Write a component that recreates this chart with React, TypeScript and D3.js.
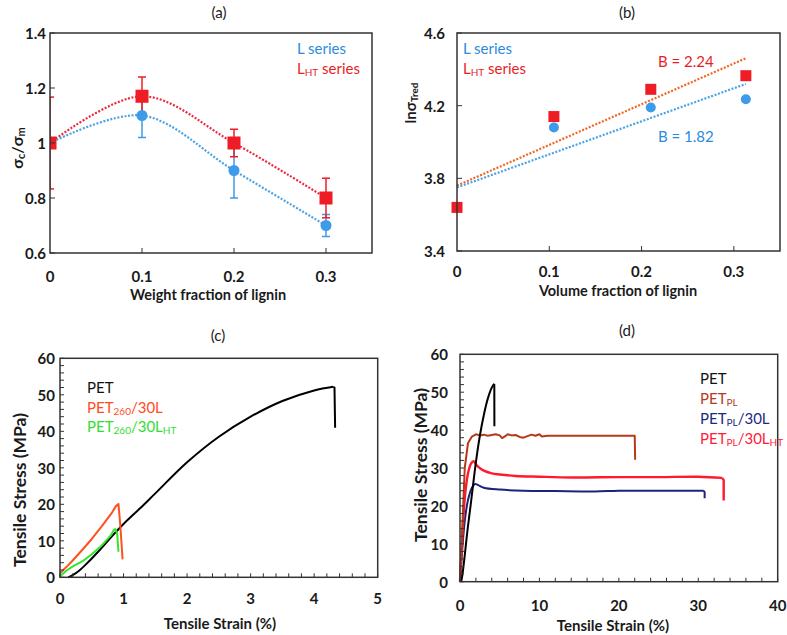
import React from 'react';
import * as d3 from 'd3';

const FONT = 'Lato, "Open Sans", sans-serif';
const INK = '#1a1a1a';

// ---------- (a) ----------
const aFrac = [0, 0.1, 0.2, 0.3];
const aL = [1.0, 1.1, 0.9, 0.7];
const aLErr = [0, 0.08, 0.1, 0.04];
const aLHT = [1.0, 1.17, 1.0, 0.8];
const aLHTErr = [0.167, 0.07, 0.05, 0.072];
const aYTicks = [0.6, 0.8, 1.0, 1.2, 1.4];
const aXTicks = [0, 0.1, 0.2, 0.3];

// ---------- (b) ----------
const bFrac = [0, 0.105, 0.21, 0.313];
const bL = [3.64, 4.08, 4.19, 4.235];
const bLHT = [3.64, 4.14, 4.29, 4.365];
const bFitL = [3.75, 1.82]; // intercept, slope
const bFitLHT = [3.76, 2.24];
const bFitRange = [0, 0.313];
const bYTicks = [3.4, 3.8, 4.2, 4.6];
const bXTicks = [0, 0.1, 0.2, 0.3];

// ---------- (c) ----------
const cPET: [number, number][] = [
  [0.13, 0], [0.2, 0.6], [0.3, 1.8], [0.4, 3.4], [0.6, 7], [0.81, 11.1], [1.0, 14.6],
  [1.26, 18.9], [1.5, 23], [2, 31.5], [2.5, 38.5], [3, 44], [3.5, 48.3], [4, 51.2],
  [4.3, 52.2],
];
const cPETBreak: [number, number][] = [[4.3, 52.2], [4.32, 52], [4.33, 41]];
const cPET260L: [number, number][] = [
  [0, 1.1], [0.1, 2.8], [0.2, 4.6], [0.37, 7.9], [0.5, 10.5], [0.65, 13.8], [0.81, 17.5],
  [0.88, 19.5], [0.92, 20.1], [0.95, 14], [0.985, 4.9],
];
const cPET260LHT: [number, number][] = [
  [0, 0.3], [0.1, 1.8], [0.2, 3.0], [0.37, 4.6], [0.5, 6.3], [0.65, 8.6], [0.8, 11.5],
  [0.85, 13], [0.87, 13.2], [0.9, 12], [0.92, 7],
];
const cXTicks = [0, 1, 2, 3, 4, 5];
const cYTicks = [0, 10, 20, 30, 40, 50, 60];

// ---------- (d) ----------
const dPET = cPET;
const dPETBreak = cPETBreak;
const dPETPL: [number, number][] = [
  [0, 0], [0.3, 15], [0.6, 30], [1.0, 36.5], [1.5, 38.3], [2, 38.9], [2.5, 38.6], [3, 38.8],
  [3.5, 38.5], [4, 38.7], [4.5, 38.9], [5, 38.6], [5.3, 37.9], [5.7, 38.4], [6, 38.9],
  [6.5, 38.6], [7, 38.7], [7.5, 38.2], [8, 38.0], [8.5, 38.4], [9, 38.8], [9.5, 38.5],
  [10, 38.9], [10.3, 38.3], [11, 38.5], [22, 38.5], [22.05, 32.2],
];
const dPETPL30L: [number, number][] = [
  [0, 0], [0.3, 9], [0.6, 16], [1.0, 21.5], [1.5, 24.8], [1.9, 25.8], [2.3, 25.5], [3, 24.8],
  [5, 24.3], [8, 24.0], [12, 23.9], [17, 23.8], [20, 24.0], [25, 24.0], [30.7, 24.0],
];
const dPETPL30LEnd: [number, number][] = [[30.7, 24.0], [30.8, 23.6], [30.8, 22.0]];
const dPETPL30LHT: [number, number][] = [
  [0, 0], [0.3, 12], [0.6, 22], [1.0, 28.5], [1.4, 31.2], [1.7, 31.8], [2.2, 30.5], [3, 29.3],
  [4, 28.6], [5, 28.3], [7, 27.9], [10, 27.7], [14, 27.5], [20, 27.6], [25, 27.6], [30, 27.7],
  [33.0, 27.4],
];
const dPETPL30LHTEnd: [number, number][] = [[33.0, 27.4], [33.2, 26.8], [33.2, 21.4]];
const dXTicks = [0, 10, 20, 30, 40];
const dYTicks = [0, 10, 20, 30, 40, 50, 60];

const fmtA = (v: number) => (v === 1 ? '1' : v === 0 ? '0' : String(v));

function Box({ x, y }: { x: d3.ScaleLinear<number, number>; y: d3.ScaleLinear<number, number> }) {
  const [x0, x1] = x.range();
  const [y0, y1] = y.range();
  return (
    <rect x={x0} y={y1} width={x1 - x0} height={y0 - y1} fill="none" stroke="#333" strokeWidth={1.5} />
  );
}

function Ticks({ x, y, xt, yt, len }: { x: any; y: any; xt: number[]; yt: number[]; len: number }) {
  const [x0] = x.range();
  const [y0] = y.range();
  return (
    <g stroke="#333" strokeWidth={1}>
      {xt.map((t, i) => (
        <line key={'x' + i} x1={x(t)} x2={x(t)} y1={y0} y2={y0 - len} />
      ))}
      {yt.map((t, i) => (
        <line key={'y' + i} x1={x0} x2={x0 + len} y1={y(t)} y2={y(t)} />
      ))}
    </g>
  );
}

function PanelA() {
  const x = d3.scaleLinear().domain([0, 0.35]).range([50, 372]);
  const y = d3.scaleLinear().domain([0.6, 1.4]).range([253, 33]);
  const curve = d3.line<number>().x((_, i) => x(aFrac[i])).y((v) => y(v)).curve(d3.curveCatmullRom.alpha(0.5));
  const blue = '#3d9be9';
  const red = '#ee1c25';
  const err = (vals: number[], errs: number[], col: string) =>
    vals.map((v, i) =>
      errs[i] > 0 ? (
        <g key={i} stroke={col} strokeWidth={1.5}>
          <line x1={x(aFrac[i])} x2={x(aFrac[i])} y1={y(v - errs[i])} y2={y(v + errs[i])} />
          <line x1={x(aFrac[i]) - 4} x2={x(aFrac[i]) + 4} y1={y(v - errs[i])} y2={y(v - errs[i])} />
          <line x1={x(aFrac[i]) - 4} x2={x(aFrac[i]) + 4} y1={y(v + errs[i])} y2={y(v + errs[i])} />
        </g>
      ) : null
    );
  return (
    <g>
      <defs>
        <clipPath id="clipA">
          <rect x={50} y={33} width={322} height={220} />
        </clipPath>
      </defs>
      <text x={219} y={12} textAnchor="middle" dominantBaseline="central" fontSize={15} fill={INK}>(a)</text>
      <g clipPath="url(#clipA)">
        {err(aL, aLErr, blue)}
        {err(aLHT, aLHTErr, red)}
        <path d={curve(aLHT) || ''} fill="none" stroke="#ee2a3a" strokeWidth={2.2} strokeDasharray="2 1.6" />
        <path d={curve(aL) || ''} fill="none" stroke="#4aa3e6" strokeWidth={2.2} strokeDasharray="2 1.6" />
        {aL.map((v, i) => (
          <circle key={i} cx={x(aFrac[i])} cy={y(v)} r={5.5} fill={blue} />
        ))}
        {aLHT.map((v, i) => (
          <rect key={i} x={x(aFrac[i]) - 6.5} y={y(v) - 6.5} width={13} height={13} fill={red} />
        ))}
      </g>
      <Ticks x={x} y={y} xt={aXTicks.slice(1)} yt={aYTicks} len={5} />
      <Box x={x} y={y} />
      <g fontFamily={FONT} fontWeight="bold" fontSize={15} fill={INK}>
        {aYTicks.map((t, i) => (
          <text key={i} x={46} y={y(t)} textAnchor="end" dominantBaseline="central">{fmtA(t)}</text>
        ))}
        {aXTicks.map((t, i) => (
          <text key={i} x={x(t)} y={276} textAnchor="middle" dominantBaseline="central">{fmtA(t)}</text>
        ))}
        <text x={208} y={294} textAnchor="middle" dominantBaseline="central" fontSize={14.5}>Weight fraction of lignin</text>
        <text transform="translate(16,148) rotate(-90)" textAnchor="middle" dominantBaseline="central" fontSize={16}>
          σ<tspan dy={4} fontSize={11}>c</tspan><tspan dy={-4}>/σ</tspan><tspan dy={4} fontSize={11}>m</tspan>
        </text>
      </g>
      <g fontFamily={FONT} fontSize={15}>
        <text x={297} y={48} dominantBaseline="central" fill="#2a8be0">L series</text>
        <text x={297} y={68} dominantBaseline="central" fill="#e81e25">
          L<tspan dy={4} fontSize={10}>HT</tspan><tspan dy={-4}> series</tspan>
        </text>
      </g>
    </g>
  );
}

function PanelB() {
  const x = d3.scaleLinear().domain([0, 0.35]).range([457, 780]);
  const y = d3.scaleLinear().domain([3.4, 4.6]).range([251, 33]);
  const fit = (f: number[]) => {
    const line = d3.line<number>().x((v) => x(v)).y((v) => y(f[0] + f[1] * v));
    return line(bFitRange) || '';
  };
  return (
    <g>
      <text x={627} y={12} textAnchor="middle" dominantBaseline="central" fontSize={15} fill={INK} fontFamily={FONT}>(b)</text>
      <path d={fit(bFitLHT)} fill="none" stroke="#f26522" strokeWidth={2.2} strokeDasharray="2 1.6" />
      <path d={fit(bFitL)} fill="none" stroke="#4ba3e3" strokeWidth={2.2} strokeDasharray="2 1.6" />
      {bL.map((v, i) => (
        <circle key={i} cx={x(bFrac[i])} cy={y(v)} r={5} fill="#3d9be9" />
      ))}
      {bLHT.map((v, i) => (
        <rect key={i} x={x(bFrac[i]) - 5.5} y={y(v) - 5.5} width={11} height={11} fill="#ee1c25" />
      ))}
      <Ticks x={x} y={y} xt={bXTicks.slice(1)} yt={bYTicks} len={5} />
      <Box x={x} y={y} />
      <g fontFamily={FONT} fontWeight="bold" fontSize={15} fill={INK}>
        {bYTicks.map((t, i) => (
          <text key={i} x={445} y={y(t)} textAnchor="end" dominantBaseline="central">{t.toFixed(1)}</text>
        ))}
        {bXTicks.map((t, i) => (
          <text key={i} x={x(t)} y={271} textAnchor="middle" dominantBaseline="central">{fmtA(t)}</text>
        ))}
        <text x={618} y={290} textAnchor="middle" dominantBaseline="central" fontSize={14.5}>Volume fraction of lignin</text>
        <text transform="translate(410,103) rotate(-90)" textAnchor="middle" dominantBaseline="central" fontSize={15}>
          lnσ<tspan dy={4} fontSize={10}>Tred</tspan>
        </text>
      </g>
      <g fontFamily={FONT} fontSize={15}>
        <text x={463} y={48} dominantBaseline="central" fill="#2a8be0">L series</text>
        <text x={463} y={68} dominantBaseline="central" fill="#e81e25">
          L<tspan dy={4} fontSize={10}>HT</tspan><tspan dy={-4}> series</tspan>
        </text>
        <text x={658} y={61} dominantBaseline="central" fill="#e81e25">B = 2.24</text>
        <text x={658} y={136} dominantBaseline="central" fill="#2a8be0">B = 1.82</text>
      </g>
    </g>
  );
}

function PanelC() {
  const x = d3.scaleLinear().domain([0, 5]).range([60, 377.7]);
  const y = d3.scaleLinear().domain([0, 60]).range([577.3, 358.3]);
  const line = d3.line<[number, number]>().x((d) => x(d[0])).y((d) => y(d[1]));
  const smooth = d3.line<[number, number]>().x((d) => x(d[0])).y((d) => y(d[1])).curve(d3.curveCatmullRom.alpha(0.5));
  const xm = d3.range(0, 5.001, 0.2);
  const ym = d3.range(0, 60.001, 2);
  return (
    <g>
      <text x={218} y={335} textAnchor="middle" dominantBaseline="central" fontSize={15} fill={INK} fontFamily={FONT}>(c)</text>
      <path d={smooth(cPET) || ''} fill="none" stroke="#000" strokeWidth={2} strokeLinejoin="round" />
      <path d={line(cPETBreak) || ''} fill="none" stroke="#000" strokeWidth={2} strokeLinejoin="round" />
      <path d={line(cPET260L) || ''} fill="none" stroke="#ff5020" strokeWidth={2} strokeLinejoin="round" />
      <path d={line(cPET260LHT) || ''} fill="none" stroke="#2ee82e" strokeWidth={2} strokeLinejoin="round" />
      <Ticks x={x} y={y} xt={xm} yt={ym} len={4} />
      <Box x={x} y={y} />
      <g fontFamily={FONT} fontWeight="bold" fontSize={15} fill={INK}>
        {cYTicks.map((t, i) => (
          <text key={i} x={55} y={y(t)} textAnchor="end" dominantBaseline="central">{t}</text>
        ))}
        {cXTicks.map((t, i) => (
          <text key={i} x={x(t)} y={598} textAnchor="middle" dominantBaseline="central">{t}</text>
        ))}
        <text x={220} y={623} textAnchor="middle" dominantBaseline="central">Tensile Strain (%)</text>
        <text transform="translate(19,490) rotate(-90)" textAnchor="middle" dominantBaseline="central" fontSize={17.5}>Tensile Stress (MPa)</text>
      </g>
      <g fontFamily={FONT} fontSize={15}>
        <text x={87} y={387} dominantBaseline="central" fill="#111">PET</text>
        <text x={87} y={407} dominantBaseline="central" fill="#ff4b1e">
          PET<tspan dy={4} fontSize={10}>260</tspan><tspan dy={-4}>/30L</tspan>
        </text>
        <text x={87} y={426} dominantBaseline="central" fill="#33dd33">
          PET<tspan dy={4} fontSize={10}>260</tspan><tspan dy={-4}>/30L</tspan><tspan dy={4} fontSize={10}>HT</tspan>
        </text>
      </g>
    </g>
  );
}

function PanelD() {
  const x = d3.scaleLinear().domain([0, 40]).range([460, 777.7]);
  const y = d3.scaleLinear().domain([0, 60]).range([581.7, 354.3]);
  const line = d3.line<[number, number]>().x((d) => x(d[0])).y((d) => y(d[1]));
  const smooth = d3.line<[number, number]>().x((d) => x(d[0])).y((d) => y(d[1])).curve(d3.curveCatmullRom.alpha(0.5));
  const xm = d3.range(0, 40.001, 2);
  const ym = d3.range(0, 60.001, 2);
  return (
    <g>
      <text x={627} y={330} textAnchor="middle" dominantBaseline="central" fontSize={15} fill={INK} fontFamily={FONT}>(d)</text>
      <path d={smooth(dPETPL30L) || ''} fill="none" stroke="#1b237a" strokeWidth={2} strokeLinejoin="round" />
      <path d={line(dPETPL30LEnd) || ''} fill="none" stroke="#1b237a" strokeWidth={2} strokeLinejoin="round" />
      <path d={smooth(dPETPL30LHT) || ''} fill="none" stroke="#ff1b2d" strokeWidth={2.4} strokeLinejoin="round" />
      <path d={line(dPETPL30LHTEnd) || ''} fill="none" stroke="#ff1b2d" strokeWidth={2.4} strokeLinejoin="round" />
      <path d={line(dPETPL) || ''} fill="none" stroke="#b5391a" strokeWidth={2} strokeLinejoin="round" />
      <path d={smooth(dPET) || ''} fill="none" stroke="#000" strokeWidth={2} strokeLinejoin="round" />
      <path d={line(dPETBreak) || ''} fill="none" stroke="#000" strokeWidth={2} strokeLinejoin="round" />
      <Ticks x={x} y={y} xt={xm} yt={ym} len={4} />
      <Box x={x} y={y} />
      <g fontFamily={FONT} fontWeight="bold" fontSize={15} fill={INK}>
        {dYTicks.map((t, i) => (
          <text key={i} x={448} y={y(t)} textAnchor="end" dominantBaseline="central">{t}</text>
        ))}
        {dXTicks.map((t, i) => (
          <text key={i} x={x(t)} y={605} textAnchor="middle" dominantBaseline="central">{t}</text>
        ))}
        <text x={613} y={625} textAnchor="middle" dominantBaseline="central">Tensile Strain (%)</text>
        <text transform="translate(420,465) rotate(-90)" textAnchor="middle" dominantBaseline="central" fontSize={17.5}>Tensile Stress (MPa)</text>
      </g>
      <g fontFamily={FONT} fontSize={15}>
        <text x={700} y={378} dominantBaseline="central" fill="#111">PET</text>
        <text x={700} y={398} dominantBaseline="central" fill="#b5391a">
          PET<tspan dy={4} fontSize={10}>PL</tspan>
        </text>
        <text x={700} y={418} dominantBaseline="central" fill="#1b2a80">
          PET<tspan dy={4} fontSize={10}>PL</tspan><tspan dy={-4}>/30L</tspan>
        </text>
        <text x={700} y={438} dominantBaseline="central" fill="#ff1b3a">
          PET<tspan dy={4} fontSize={10}>PL</tspan><tspan dy={-4}>/30L</tspan><tspan dy={4} fontSize={10}>HT</tspan>
        </text>
      </g>
    </g>
  );
}

export default function App() {
  return (
    <svg
      width={787}
      height={635}
      viewBox="0 0 787 635"
      style={{ position: 'absolute', left: 0, top: 0, background: '#fff' }}
      fontFamily={FONT}
    >
      <rect width={787} height={635} fill="#fff" />
      <PanelA />
      <PanelB />
      <PanelC />
      <PanelD />
    </svg>
  );
}
